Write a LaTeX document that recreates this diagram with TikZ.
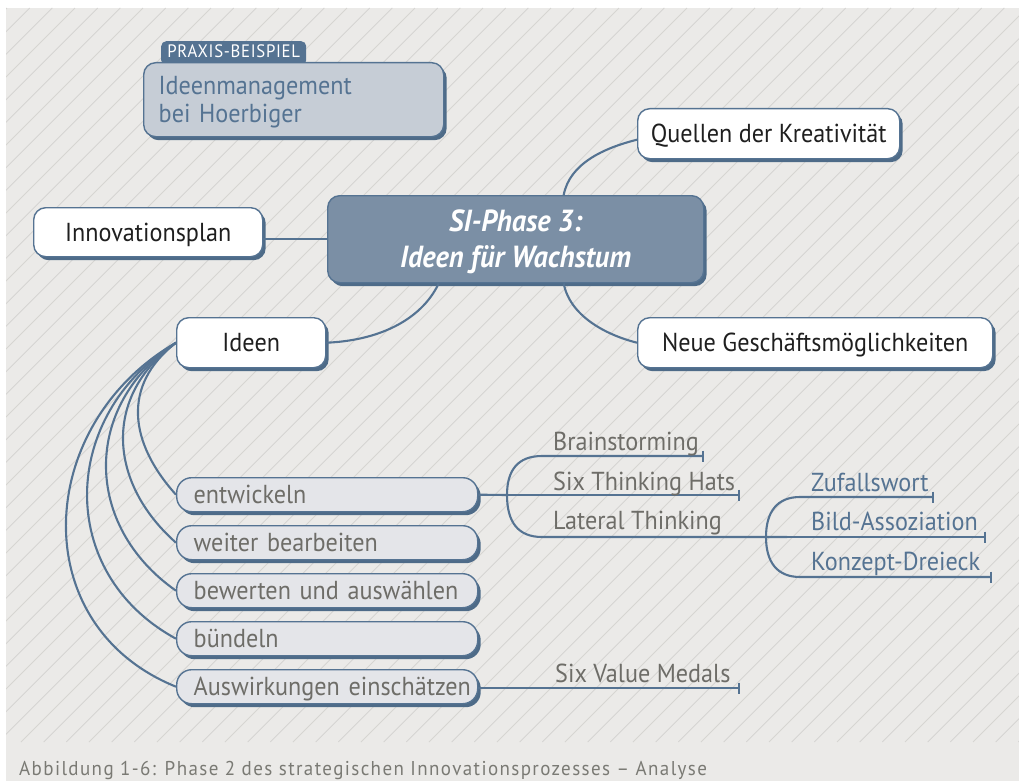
\documentclass[tikz,border=0pt]{standalone}
\usepackage{fontspec}
\setmainfont{PT Sans}[FakeStretch=0.93]
\newfontfamily\tabfont{PT Sans}[FakeStretch=0.93, LetterSpace=4]
\newfontfamily\capfont{PT Sans}[FakeStretch=0.95, LetterSpace=7]
\usetikzlibrary{shadows,arrows.meta}

\definecolor{paper}{HTML}{EBEAE8}
\definecolor{hatchline}{HTML}{D6D5D2}
\definecolor{edge}{HTML}{557392}
\definecolor{shade}{HTML}{4E6B88}
\definecolor{corefill}{HTML}{7B8FA5}
\definecolor{notefill}{HTML}{C6CDD6}
\definecolor{subfill}{HTML}{E4E5E9}
\definecolor{greytext}{HTML}{6E6D68}
\definecolor{bluetext}{HTML}{557392}
\definecolor{ink}{HTML}{1F1F1F}
\definecolor{captiongrey}{HTML}{7A7A74}

\newcommand\fsz[2]{\fontsize{#1}{#2}\selectfont}

\tikzset{
  box/.style={draw=edge, line width=1.4pt, rounded corners=12pt,
    general shadow={fill=shade, shadow xshift=3pt, shadow yshift=-3.5pt},
    inner sep=0pt, anchor=north west},
  topic/.style={box, fill=white, text=ink, font=\fsz{26}{30},
    text height=18pt, text depth=0pt},
  core/.style={box, fill=corefill, text=white, align=center,
    font=\fsz{30.5}{36}\bfseries\itshape},
  note/.style={box, fill=notefill, text=bluetext, font=\fsz{26}{28},
    text width=270pt, inner xsep=15pt, align=left},
  tab/.style={fill=edge, rounded corners=5pt, text=white, font=\tabfont\fsz{18}{20},
    inner xsep=0pt, inner ysep=4pt, text height=12pt, text depth=4pt,
    anchor=north west},
  substep/.style={box, rounded corners=15pt, fill=subfill, text=greytext,
    font=\fsz{26}{28}, text width=301pt, inner xsep=0pt,
    minimum height=34pt, align=left, text height=19pt, text depth=1pt,
    execute at begin node=\hspace*{17pt}},
  link/.style={draw=edge, line width=2.1pt},
  leaf/.style={link, -{Bar[width=11pt, line width=1.6pt]}},
  leaftext/.style={anchor=base west, inner sep=0pt, font=\fsz{26}{28}},
  hatch/.style={draw=hatchline, line width=0.9pt}
}

\begin{document}
\begin{tikzpicture}[x=1pt, y=-1pt]
  \useasboundingbox (0,0) rectangle (1019,781);
  % paper and hatched field
  \fill[white] (0,0) rectangle (1019,781);
  \fill[paper] (6,8) rectangle (1019,781);
  \begin{scope}
    \clip (6,8) rectangle (1019,742);
    \foreach \i in {-72,...,5}
      \draw[hatch] ({905+22.667*\i},742) -- ({905+22.667*\i+734},8);
  \end{scope}

  % practice example
  \node[tab, minimum width=145pt] (tab) at (161,41) {PRAXIS-BEISPIEL};
  \node[note, minimum height=74pt] (note) at (143,62)
    {\rule{0pt}{24pt}Ideenmanagement\\bei Hoerbiger};

  % central topic and main branches
  \node[core, minimum width=376pt, minimum height=87pt] (core) at (327,195)
    {\rule{0pt}{26pt}SI-Phase 3:\\Ideen für Wachstum};
  \node[topic, minimum width=262pt, minimum height=50pt] (quellen) at (637,108)
    {Quellen der Kreativität};
  \node[topic, minimum width=355pt, minimum height=50pt] (neue) at (637,317)
    {Neue Geschäftsmöglichkeiten};
  \node[topic, minimum width=229pt, minimum height=49pt] (innov) at (33,207)
    {Innovationsplan};
  \node[topic, minimum width=149pt, minimum height=50pt] (ideen) at (176,317)
    {Ideen};

  \draw[link] (core.west) -- (innov.east |- core.west);
  \draw[link] ([xshift=48pt]core.north) .. controls +(6,-32) and +(-32,8) .. ([yshift=-6pt]quellen.west);
  \draw[link] ([xshift=48pt]core.south) .. controls +(6,32) and +(-32,-8) .. (neue.west);
  \draw[link] ([xshift=-77pt]core.south) .. controls +(-18,38) and +(50,-2) .. (ideen.east);

  % steps of the idea process
  \node[substep] (s1) at (176,477) {entwickeln};
  \node[substep] (s2) at (176,525) {weiter bearbeiten};
  \node[substep] (s3) at (176,573) {bewerten und auswählen};
  \node[substep] (s4) at (176,621) {bündeln};
  \node[substep] (s5) at (176,669) {Auswirkungen einschätzen};

  \draw[link] (ideen.west) .. controls +(-54.8,42.8) and +(-46.5,-51.6) .. (s1.west);
  \draw[link] (ideen.west) .. controls +(-73.4,53.3) and +(-67.9,-60.1) .. (s2.west);
  \draw[link] (ideen.west) .. controls +(-93.9,63.4) and +(-92.8,-65.0) .. (s3.west);
  \draw[link] (ideen.west) .. controls +(-116.5,72.8) and +(-120.7,-65.6) .. (s4.west);
  \draw[link] (ideen.west) .. controls +(-141.7,81.8) and +(-151.7,-61.3) .. (s5.west);

  % methods for developing ideas
  \coordinate (fork1) at (507,495);
  \coordinate (brainEnd) at (704,456);
  \coordinate (hatsEnd) at (740,495);
  \coordinate (lateralEnd) at (787,537);
  \draw[link] (s1.east) -- (fork1);
  \draw[leaf] (fork1) -- (hatsEnd);
  \draw[leaf] (fork1) .. controls (507,470) and (518,456) .. (542,456) -- (brainEnd);
  \draw[link] (fork1) .. controls (507,522) and (518,537) .. (542,537) -- (lateralEnd);
  \node[leaftext, text=greytext] (brain) at (553,450) {Brainstorming};
  \node[leaftext, text=greytext] (hats) at (553,490) {Six Thinking Hats};
  \node[leaftext, text=greytext] (lateral) at (553,529) {Lateral Thinking};

  % lateral thinking techniques
  \coordinate (fork2) at (766,537);
  \coordinate (zufallEnd) at (934,497);
  \coordinate (bildEnd) at (986,537);
  \coordinate (konzeptEnd) at (992,577);
  \draw[leaf] (fork2) -- (bildEnd);
  \draw[leaf] (fork2) .. controls (766,512) and (777,497) .. (800,497) -- (zufallEnd);
  \draw[leaf] (fork2) .. controls (766,562) and (777,577) .. (800,577) -- (konzeptEnd);
  \node[leaftext, text=bluetext] (zufall) at (811,491) {Zufallswort};
  \node[leaftext, text=bluetext] (bild) at (811,530) {Bild-Assoziation};
  \node[leaftext, text=bluetext] (konzept) at (811,570) {Konzept-Dreieck};

  % assessing impact
  \coordinate (medalsEnd) at (740,688);
  \draw[leaf] (s5.east |- medalsEnd) -- (medalsEnd);
  \node[leaftext, text=greytext] (medals) at (555,682) {Six Value Medals};

  % caption
  \node[anchor=base west, inner sep=0pt, font=\capfont\fsz{20}{22}, text=captiongrey] (caption) at (19,775)
    {Abbildung 1-6: Phase 2 des strategischen Innovationsprozesses – Analyse};
\end{tikzpicture}
\end{document}
